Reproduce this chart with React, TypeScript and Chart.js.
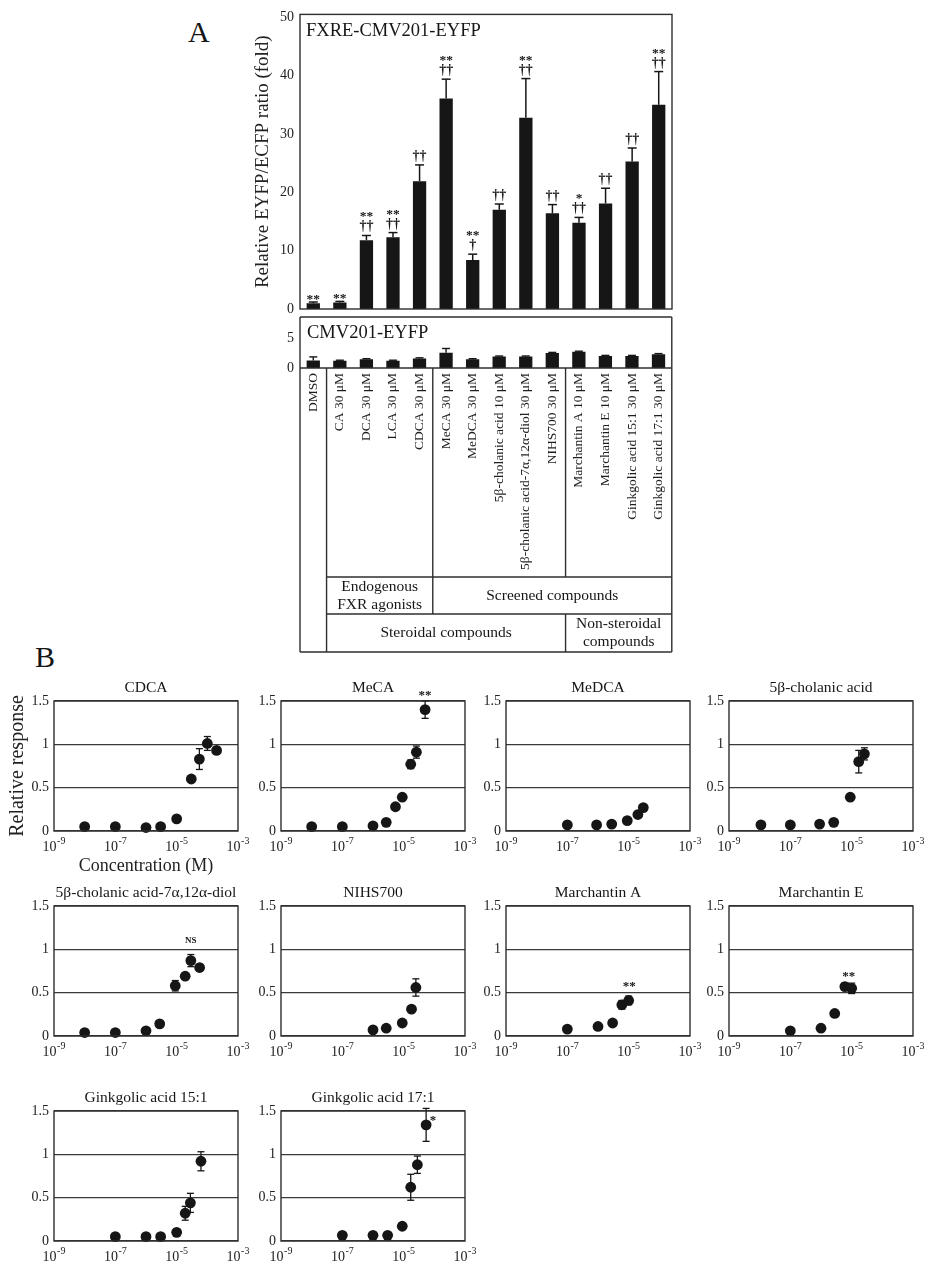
import React, { useEffect, useRef } from "react";
import { Chart, registerables } from "chart.js";

Chart.register(...registerables);

const SERIF = '"Liberation Serif", "Times New Roman", Times, serif';
const INK = "#161616";
const LINE = "#2e2e2e";

// ---------------- Panel A data ----------------
const categories = [
  "DMSO",
  "CA 30 μM",
  "DCA 30 μM",
  "LCA 30 μM",
  "CDCA 30 μM",
  "MeCA 30 μM",
  "MeDCA 30 μM",
  "5β-cholanic acid 10 μM",
  "5β-cholanic acid-7α,12α-diol 30 μM",
  "NIHS700 30 μM",
  "Marchantin A 10 μM",
  "Marchantin E 10 μM",
  "Ginkgolic acid 15:1 30 μM",
  "Ginkgolic acid 17:1 30 μM",
];
const fxreValues = [1.0, 1.1, 11.8, 12.3, 21.9, 36.1, 8.4, 17.0, 32.8, 16.4, 14.8, 18.1, 25.3, 35.0];
const fxreErrors = [0.2, 0.2, 0.8, 0.8, 2.8, 3.3, 1.0, 1.0, 6.7, 1.5, 0.9, 2.6, 2.3, 5.7];
const fxreMarks = [
  ["**"], ["**"], ["**", "††"], ["**", "††"], ["††"], ["**", "††"], ["**", "†"],
  ["††"], ["**", "††"], ["††"], ["*", "††"], ["††"], ["††"], ["**", "††"],
];
const fxreTicks = [0, 10, 20, 30, 40, 50];
const cmvValues = [1.25, 1.2, 1.45, 1.2, 1.6, 2.55, 1.45, 1.9, 1.9, 2.5, 2.7, 2.0, 2.0, 2.3];
const cmvErrors = [0.6, 0.1, 0.1, 0.1, 0.1, 0.7, 0.1, 0.1, 0.1, 0.1, 0.1, 0.1, 0.1, 0.1];
const cmvTicks = [0, 5];
const groupRowUpper = [
  { start: 1, end: 4, lines: ["Endogenous", "FXR agonists"] },
  { start: 5, end: 13, lines: ["Screened compounds"] },
];
const groupRowLower = [
  { start: 1, end: 9, lines: ["Steroidal compounds"] },
  { start: 10, end: 13, lines: ["Non-steroidal", "compounds"] },
];

// ---------------- Panel B data ----------------
const yTicksB = [0, 0.5, 1, 1.5];
const xTickExponents = [-9, -7, -5, -3];

const cdcaConc = [1e-8, 1e-7, 1e-6, 3e-6, 1e-5, 3e-5, 5.5e-5, 1e-4, 2e-4];
const cdcaResp = [0.05, 0.05, 0.04, 0.05, 0.14, 0.6, 0.83, 1.01, 0.93];
const cdcaErr = [0, 0, 0, 0, 0.02, 0.02, 0.12, 0.08, 0.03];

const mecaConc = [1e-8, 1e-7, 1e-6, 2.7e-6, 5.4e-6, 9e-6, 1.7e-5, 2.6e-5, 5e-5];
const mecaResp = [0.05, 0.05, 0.06, 0.1, 0.28, 0.39, 0.77, 0.91, 1.4];
const mecaErr = [0, 0, 0, 0, 0.02, 0.02, 0.05, 0.07, 0.1];

const medcaConc = [1e-7, 9e-7, 2.8e-6, 9e-6, 2e-5, 3e-5];
const medcaResp = [0.07, 0.07, 0.08, 0.12, 0.19, 0.27];
const medcaErr = [0, 0, 0, 0.02, 0.02, 0.03];

const cholConc = [1.1e-8, 1e-7, 9e-7, 2.6e-6, 9e-6, 1.7e-5, 2.6e-5];
const cholResp = [0.07, 0.07, 0.08, 0.1, 0.39, 0.8, 0.89];
const cholErr = [0, 0, 0, 0, 0.02, 0.13, 0.07];

const diolConc = [1e-8, 1e-7, 1e-6, 2.8e-6, 9e-6, 1.9e-5, 2.9e-5, 5.6e-5];
const diolResp = [0.04, 0.04, 0.06, 0.14, 0.58, 0.69, 0.87, 0.79];
const diolErr = [0, 0, 0, 0, 0.06, 0.02, 0.07, 0.03];

const nihsConc = [1e-6, 2.7e-6, 9e-6, 1.8e-5, 2.5e-5];
const nihsResp = [0.07, 0.09, 0.15, 0.31, 0.56];
const nihsErr = [0, 0, 0.02, 0.02, 0.1];

const marAConc = [1e-7, 1e-6, 3e-6, 6e-6, 1e-5];
const marAResp = [0.08, 0.11, 0.15, 0.36, 0.41];
const marAErr = [0, 0, 0, 0.05, 0.05];

const marEConc = [1e-7, 1e-6, 2.8e-6, 6e-6, 1e-5];
const marEResp = [0.06, 0.09, 0.26, 0.57, 0.55];
const marEErr = [0, 0, 0.01, 0.04, 0.06];

const ga15Conc = [1e-7, 1e-6, 3e-6, 1e-5, 1.9e-5, 2.8e-5, 6.2e-5];
const ga15Resp = [0.05, 0.05, 0.05, 0.1, 0.32, 0.44, 0.92];
const ga15Err = [0, 0, 0, 0.02, 0.08, 0.11, 0.11];

const ga17Conc = [1e-7, 1e-6, 3e-6, 9e-6, 1.7e-5, 2.8e-5, 5.4e-5];
const ga17Resp = [0.065, 0.065, 0.065, 0.17, 0.62, 0.88, 1.34];
const ga17Err = [0, 0, 0, 0.02, 0.15, 0.1, 0.19];

type Note = { x: number; y: number; text: string; size: number };
type BPanel = {
  title: string;
  conc: number[];
  resp: number[];
  err: number[];
  notes: Note[];
  col: number;
  row: number;
  axisTitles?: boolean;
};

const bPanels: BPanel[] = [
  { title: "CDCA", conc: cdcaConc, resp: cdcaResp, err: cdcaErr, notes: [], col: 0, row: 0, axisTitles: true },
  { title: "MeCA", conc: mecaConc, resp: mecaResp, err: mecaErr, notes: [{ x: 5e-5, y: 1.59, text: "**", size: 13 }], col: 1, row: 0 },
  { title: "MeDCA", conc: medcaConc, resp: medcaResp, err: medcaErr, notes: [], col: 2, row: 0 },
  { title: "5β-cholanic acid", conc: cholConc, resp: cholResp, err: cholErr, notes: [], col: 3, row: 0 },
  { title: "5β-cholanic acid-7α,12α-diol", conc: diolConc, resp: diolResp, err: diolErr, notes: [{ x: 2.9e-5, y: 1.1, text: "NS", size: 9 }], col: 0, row: 1 },
  { title: "NIHS700", conc: nihsConc, resp: nihsResp, err: nihsErr, notes: [], col: 1, row: 1 },
  { title: "Marchantin A", conc: marAConc, resp: marAResp, err: marAErr, notes: [{ x: 1.05e-5, y: 0.6, text: "**", size: 13 }], col: 2, row: 1 },
  { title: "Marchantin E", conc: marEConc, resp: marEResp, err: marEErr, notes: [{ x: 8e-6, y: 0.72, text: "**", size: 13 }], col: 3, row: 1 },
  { title: "Ginkgolic acid 15:1", conc: ga15Conc, resp: ga15Resp, err: ga15Err, notes: [], col: 0, row: 2 },
  { title: "Ginkgolic acid 17:1", conc: ga17Conc, resp: ga17Resp, err: ga17Err, notes: [{ x: 9e-5, y: 1.42, text: "*", size: 13 }], col: 1, row: 2 },
];

// ---------------- layout constants ----------------
const B_COLS = [54, 281, 506, 729];
const B_ROWS = [701, 906, 1111];
const B_W = 184;
const B_H = 130;

const A_LEFT = 240;
const A_AXIS_W = 60;
const A_W = 440;
const A_PAD_R = 8;
const TOP_H = 330;
const TOP_PLOT_TOP = 13;
const TOP_PLOT_BOTTOM = 309;

// lower panel-A canvas
const LOWER_TOP = 296;
const LOWER_PLOT_TOP = 317 - LOWER_TOP;
const LOWER_PLOT_H = 51;
const TABLE_ROW2 = 577 - LOWER_TOP;
const TABLE_ROW3 = 614 - LOWER_TOP;
const TABLE_BOTTOM = 652 - LOWER_TOP;
const LOWER_H = TABLE_BOTTOM + 6;

function ChartCanvas(props: {
  left: number;
  top: number;
  width: number;
  height: number;
  build: (c: HTMLCanvasElement) => Chart;
}) {
  const ref = useRef<HTMLCanvasElement>(null);
  useEffect(() => {
    if (!ref.current) return;
    const chart = props.build(ref.current);
    return () => chart.destroy();
  }, []);
  return (
    <canvas
      ref={ref}
      width={props.width}
      height={props.height}
      style={{ position: "absolute", left: props.left, top: props.top, width: props.width, height: props.height }}
    />
  );
}

function line(ctx: CanvasRenderingContext2D, x1: number, y1: number, x2: number, y2: number) {
  ctx.beginPath();
  ctx.moveTo(x1, y1);
  ctx.lineTo(x2, y2);
  ctx.stroke();
}

// ---------------- Panel A top ----------------
function buildTop(canvas: HTMLCanvasElement) {
  const decor = {
    id: "topDecor",
    afterDraw(chart: any) {
      const { ctx, chartArea: ca, scales } = chart;
      const x = scales.x;
      const y = scales.y;
      ctx.save();
      // error bars
      ctx.strokeStyle = INK;
      ctx.lineWidth = 1.5;
      fxreValues.forEach((v, i) => {
        const px = x.getPixelForValue(i);
        const y0 = y.getPixelForValue(v);
        const y1 = y.getPixelForValue(v + fxreErrors[i]);
        line(ctx, px, y0, px, y1);
        line(ctx, px - 4.5, y1, px + 4.5, y1);
      });
      // significance marks
      ctx.fillStyle = INK;
      ctx.textAlign = "center";
      ctx.textBaseline = "alphabetic";
      fxreMarks.forEach((marks, i) => {
        const px = x.getPixelForValue(i);
        const yTop = y.getPixelForValue(fxreValues[i] + fxreErrors[i]);
        let base = 0;
        for (let k = marks.length - 1; k >= 0; k--) {
          const m = marks[k];
          const isDagger = m.includes("†");
          if (k === marks.length - 1) {
            base = isDagger ? yTop - 5 : yTop + 1;
          } else {
            base = base - 10;
          }
          ctx.font = isDagger ? `bold 14px ${SERIF}` : `bold 13.5px ${SERIF}`;
          ctx.fillText(m, px, base);
        }
      });
      // frame
      ctx.strokeStyle = LINE;
      ctx.lineWidth = 1.4;
      ctx.strokeRect(ca.left, ca.top, ca.right - ca.left, ca.bottom - ca.top);
      // inset title
      ctx.fillStyle = INK;
      ctx.textAlign = "left";
      ctx.font = `18.5px ${SERIF}`;
      ctx.fillText("FXRE-CMV201-EYFP", ca.left + 6, ca.top + 22);
      ctx.restore();
    },
  };
  return new Chart(canvas, {
    type: "bar",
    data: {
      labels: categories,
      datasets: [
        {
          data: fxreValues,
          backgroundColor: INK,
          barPercentage: 0.5,
          categoryPercentage: 1,
        },
      ],
    },
    options: {
      animation: false,
      responsive: false,
      devicePixelRatio: 1,
      events: [],
      layout: { autoPadding: false, padding: { top: TOP_PLOT_TOP, right: A_PAD_R, bottom: 0, left: 0 } },
      plugins: { legend: { display: false }, tooltip: { enabled: false } },
      scales: {
        x: {
          ticks: { display: false },
          grid: { display: false, drawTicks: false },
          border: { display: false },
          afterFit: (s: any) => {
            s.height = TOP_H - TOP_PLOT_BOTTOM;
          },
        },
        y: {
          min: 0,
          max: 50.5,
          afterBuildTicks: (s: any) => {
            s.ticks = fxreTicks.map((v) => ({ value: v }));
          },
          ticks: { font: { family: SERIF, size: 14 }, color: "#222", padding: 6 },
          grid: { display: false, drawTicks: false },
          border: { display: false },
          title: {
            display: true,
            text: "Relative EYFP/ECFP ratio (fold)",
            font: { family: SERIF, size: 19 },
            color: "#222",
            padding: { top: 11.5, bottom: 0 },
          },
          afterFit: (s: any) => {
            s.width = A_AXIS_W;
          },
        },
      },
    },
    plugins: [decor],
  } as any);
}

// ---------------- Panel A bottom (control + category table) ----------------
function buildLower(canvas: HTMLCanvasElement) {
  const decor = {
    id: "lowerDecor",
    afterDraw(chart: any) {
      const { ctx, chartArea: ca, scales } = chart;
      const x = scales.x;
      const y = scales.y;
      const n = categories.length;
      const edge = (i: number) =>
        i <= 0 ? ca.left : i >= n ? ca.right : (x.getPixelForTick(i - 1) + x.getPixelForTick(i)) / 2;
      ctx.save();
      // error bars
      ctx.strokeStyle = INK;
      ctx.lineWidth = 1.4;
      cmvValues.forEach((v, i) => {
        const px = x.getPixelForValue(i);
        const y0 = y.getPixelForValue(v);
        const y1 = y.getPixelForValue(v + cmvErrors[i]);
        line(ctx, px, y0, px, y1);
        line(ctx, px - 4, y1, px + 4, y1);
      });
      // frame and table
      ctx.strokeStyle = LINE;
      ctx.lineWidth = 1.4;
      line(ctx, ca.left, ca.top, ca.right, ca.top);
      line(ctx, ca.left, ca.top, ca.left, TABLE_BOTTOM);
      line(ctx, ca.right, ca.top, ca.right, TABLE_BOTTOM);
      line(ctx, ca.left, ca.bottom, ca.right, ca.bottom);
      line(ctx, ca.left, TABLE_BOTTOM, ca.right, TABLE_BOTTOM);
      const first = Math.min(...groupRowUpper.map((g) => g.start));
      const e1 = edge(first);
      line(ctx, e1, TABLE_ROW2, ca.right, TABLE_ROW2);
      line(ctx, e1, TABLE_ROW3, ca.right, TABLE_ROW3);
      const seps = Array.from(new Set([...groupRowUpper, ...groupRowLower].map((g) => g.start)));
      seps.forEach((s) => line(ctx, edge(s), ca.bottom, edge(s), TABLE_ROW2));
      groupRowUpper.forEach((g) => line(ctx, edge(g.start), TABLE_ROW2, edge(g.start), TABLE_ROW3));
      groupRowLower.forEach((g) => line(ctx, edge(g.start), TABLE_ROW3, edge(g.start), TABLE_BOTTOM));
      // group texts
      ctx.fillStyle = INK;
      ctx.textAlign = "center";
      ctx.textBaseline = "middle";
      ctx.font = `15.5px ${SERIF}`;
      const drawGroup = (g: { start: number; end: number; lines: string[] }, y0: number, y1: number) => {
        const cx = (edge(g.start) + edge(g.end + 1)) / 2;
        const cy = (y0 + y1) / 2;
        const lh = 18;
        g.lines.forEach((t, k) => {
          ctx.fillText(t, cx, cy + (k - (g.lines.length - 1) / 2) * lh);
        });
      };
      groupRowUpper.forEach((g) => drawGroup(g, TABLE_ROW2, TABLE_ROW3));
      groupRowLower.forEach((g) => drawGroup(g, TABLE_ROW3, TABLE_BOTTOM));
      // inset title
      ctx.textAlign = "left";
      ctx.textBaseline = "alphabetic";
      ctx.font = `18.5px ${SERIF}`;
      ctx.fillText("CMV201-EYFP", ca.left + 7, ca.top + 21);
      ctx.restore();
    },
  };
  return new Chart(canvas, {
    type: "bar",
    data: {
      labels: categories,
      datasets: [
        {
          data: cmvValues,
          backgroundColor: INK,
          barPercentage: 0.5,
          categoryPercentage: 1,
        },
      ],
    },
    options: {
      animation: false,
      responsive: false,
      devicePixelRatio: 1,
      events: [],
      layout: { autoPadding: false, padding: { top: LOWER_PLOT_TOP, right: A_PAD_R, bottom: 0, left: 0 } },
      plugins: { legend: { display: false }, tooltip: { enabled: false } },
      scales: {
        x: {
          ticks: {
            autoSkip: false,
            minRotation: 90,
            maxRotation: 90,
            font: { family: SERIF, size: 13.5 },
            color: "#1e1e1e",
            padding: 5,
          },
          grid: { display: false, drawTicks: false },
          border: { display: false },
          afterFit: (s: any) => {
            s.height = LOWER_H - LOWER_PLOT_TOP - LOWER_PLOT_H;
          },
        },
        y: {
          min: 0,
          max: 8.5,
          afterBuildTicks: (s: any) => {
            s.ticks = cmvTicks.map((v) => ({ value: v }));
          },
          ticks: { font: { family: SERIF, size: 14 }, color: "#222", padding: 6 },
          grid: { display: false, drawTicks: false },
          border: { display: false },
          afterFit: (s: any) => {
            s.width = A_AXIS_W;
          },
        },
      },
    },
    plugins: [decor],
  } as any);
}

// ---------------- Panel B ----------------
function bGeometry(p: BPanel) {
  const yw = p.axisTitles ? 54 : 44;
  const pt = 30;
  const pr = 24;
  const xh = p.axisTitles ? 48 : 30;
  return {
    yw,
    pt,
    pr,
    xh,
    left: B_COLS[p.col] - yw,
    top: B_ROWS[p.row] - pt,
    width: yw + B_W + pr,
    height: pt + B_H + xh,
  };
}

function buildB(p: BPanel) {
  const g = bGeometry(p);
  return (canvas: HTMLCanvasElement) => {
    const decor = {
      id: "bDecor",
      afterDraw(chart: any) {
        const { ctx, chartArea: ca, scales } = chart;
        const x = scales.x;
        const y = scales.y;
        ctx.save();
        // error bars
        ctx.strokeStyle = INK;
        ctx.lineWidth = 1.3;
        p.conc.forEach((c, i) => {
          const e = p.err[i];
          if (!e) return;
          const px = x.getPixelForValue(c);
          const y1 = y.getPixelForValue(p.resp[i] + e);
          const y2 = y.getPixelForValue(p.resp[i] - e);
          line(ctx, px, y1, px, y2);
          line(ctx, px - 3.5, y1, px + 3.5, y1);
          line(ctx, px - 3.5, y2, px + 3.5, y2);
        });
        // frame
        ctx.strokeStyle = LINE;
        ctx.lineWidth = 1.4;
        ctx.strokeRect(ca.left, ca.top, ca.right - ca.left, ca.bottom - ca.top);
        // x tick labels 10^n
        ctx.fillStyle = "#222";
        ctx.textAlign = "left";
        ctx.textBaseline = "alphabetic";
        xTickExponents.forEach((ex) => {
          const px = x.getPixelForValue(Math.pow(10, ex));
          ctx.font = `14px ${SERIF}`;
          const w1 = ctx.measureText("10").width;
          ctx.font = `10px ${SERIF}`;
          const w2 = ctx.measureText(String(ex)).width;
          const start = px - (w1 + w2 + 0.5) / 2;
          ctx.font = `14px ${SERIF}`;
          ctx.fillText("10", start, ca.bottom + 20);
          ctx.font = `10px ${SERIF}`;
          ctx.fillText(String(ex), start + w1 + 0.5, ca.bottom + 13);
        });
        // panel title
        ctx.textAlign = "center";
        ctx.font = `15.5px ${SERIF}`;
        ctx.fillStyle = INK;
        ctx.fillText(p.title, (ca.left + ca.right) / 2, ca.top - 9);
        // notes
        p.notes.forEach((nt) => {
          const px = x.getPixelForValue(nt.x);
          const py = y.getPixelForValue(nt.y);
          ctx.font = `bold ${nt.size}px ${SERIF}`;
          ctx.textBaseline = "middle";
          ctx.fillText(nt.text, px, py + (nt.text.includes("*") ? nt.size * 0.22 : 0));
        });
        ctx.restore();
      },
    };
    return new Chart(canvas, {
      type: "scatter",
      data: {
        datasets: [
          {
            data: p.conc.map((c, i) => ({ x: c, y: p.resp[i] })),
            backgroundColor: INK,
            borderWidth: 0,
            pointRadius: 5.4,
            pointHoverRadius: 5.4,
            clip: false,
          },
        ],
      },
      options: {
        animation: false,
        responsive: false,
        devicePixelRatio: 1,
        events: [],
        layout: { autoPadding: false, padding: { top: g.pt, right: g.pr, bottom: 0, left: 0 } },
        plugins: { legend: { display: false }, tooltip: { enabled: false } },
        scales: {
          x: {
            type: "logarithmic",
            min: 1e-9,
            max: 1e-3,
            ticks: { display: false },
            grid: { display: false, drawTicks: false },
            border: { display: false },
            title: {
              display: !!p.axisTitles,
              text: "Concentration (M)",
              font: { family: SERIF, size: 18 },
              color: "#222",
              padding: { top: 0, bottom: 2 },
            },
            afterFit: (s: any) => {
              s.height = g.xh;
            },
          },
          y: {
            min: 0,
            max: 1.5,
            afterBuildTicks: (s: any) => {
              s.ticks = yTicksB.map((v) => ({ value: v }));
            },
            ticks: {
              font: { family: SERIF, size: 14 },
              color: "#222",
              padding: 5,
              callback: (v: any) => String(v),
            },
            grid: { color: "#3a3a3a", lineWidth: 1.2, drawTicks: false },
            border: { display: false },
            title: {
              display: !!p.axisTitles,
              text: "Relative response",
              font: { family: SERIF, size: 20 },
              color: "#222",
              padding: { top: 6, bottom: 0 },
            },
            afterFit: (s: any) => {
              s.width = g.yw;
            },
          },
        },
      },
      plugins: [decor],
    } as any);
  };
}

export default function App() {
  return (
    <div
      style={{
        position: "absolute",
        left: 0,
        top: 0,
        width: 928,
        height: 1268,
        background: "#ffffff",
        overflow: "hidden",
        fontFamily: SERIF,
      }}
    >
      <div style={{ position: "absolute", left: 188, top: 17, fontSize: 30, lineHeight: "30px", color: INK }}>A</div>
      <div style={{ position: "absolute", left: 35, top: 642, fontSize: 30, lineHeight: "30px", color: INK }}>B</div>
      <ChartCanvas left={A_LEFT} top={0} width={A_W} height={TOP_H} build={buildTop} />
      <ChartCanvas left={A_LEFT} top={LOWER_TOP} width={A_W} height={LOWER_H} build={buildLower} />
      {bPanels.map((p) => {
        const g = bGeometry(p);
        return (
          <ChartCanvas
            key={p.title}
            left={g.left}
            top={g.top}
            width={g.width}
            height={g.height}
            build={buildB(p)}
          />
        );
      })}
    </div>
  );
}
